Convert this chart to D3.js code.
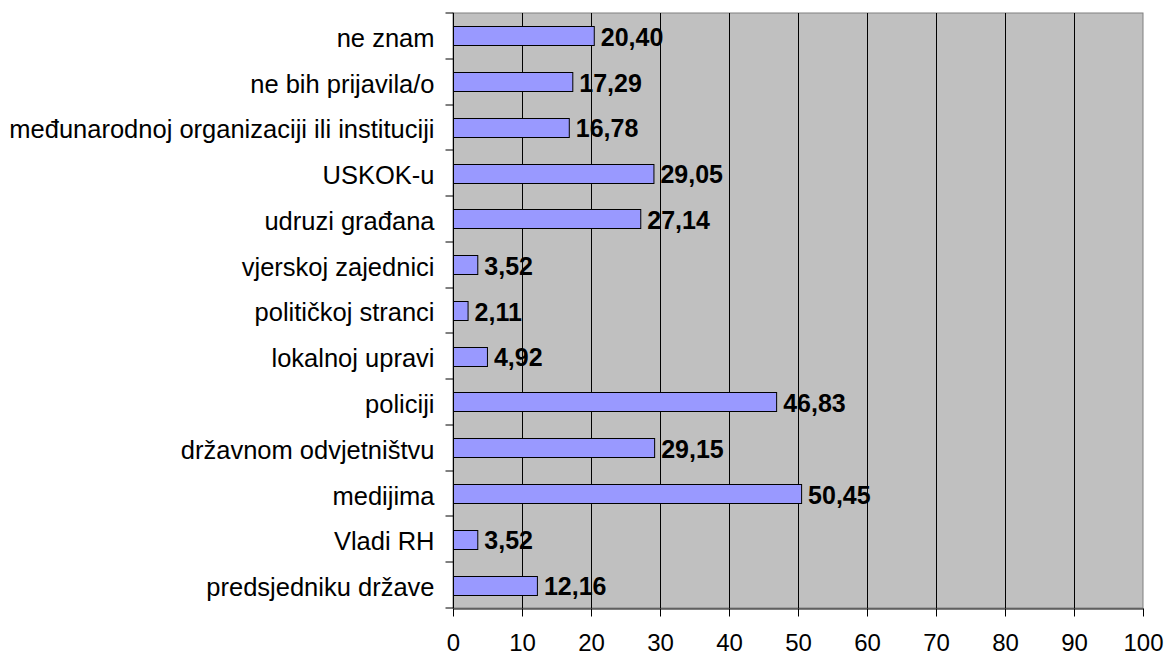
<!DOCTYPE html>
<meta charset="utf-8">
<script src="https://d3js.org/d3.v7.min.js"></script>
<style>
  body { margin: 0; background: #fff; }
  text { font-family: "Liberation Sans", Arial, sans-serif; }
</style>
<body>
<div id="chart"></div>
<script>
// categories, top to bottom
var categories = [
  "ne znam",
  "ne bih prijavila/o",
  "međunarodnoj organizaciji ili instituciji",
  "USKOK-u",
  "udruzi građana",
  "vjerskoj zajednici",
  "političkoj stranci",
  "lokalnoj upravi",
  "policiji",
  "državnom odvjetništvu",
  "medijima",
  "Vladi RH",
  "predsjedniku države"
];
var values = [20.40, 17.29, 16.78, 29.05, 27.14, 3.52, 2.11, 4.92, 46.83, 29.15, 50.45, 3.52, 12.16];
var xTicks = [0, 10, 20, 30, 40, 50, 60, 70, 80, 90, 100];

var data = categories.map(function(c, i) { return { name: c, value: values[i] }; });

var W = 1170, H = 657;
var margin = { top: 13, right: 27, bottom: 49, left: 453 };
var width = W - margin.left - margin.right,
    height = H - margin.top - margin.bottom;

var svg = d3.select("#chart").append("svg")
    .attr("width", W)
    .attr("height", H);

var g = svg.append("g")
    .attr("transform", "translate(" + margin.left + "," + margin.top + ")");

var x = d3.scaleLinear().domain([0, 100]).range([0, width]);
var y = d3.scaleBand().domain(categories).range([0, height]).paddingInner(0.58).paddingOuter(0.29);
var yb = d3.scaleBand().domain(categories).range([0, height]);

// plot background
g.append("rect")
  .attr("width", width).attr("height", height)
  .attr("fill", "#c0c0c0")
  .attr("stroke", "#808080").attr("stroke-width", 1);

// vertical gridlines
g.selectAll(".grid").data(xTicks.slice(1, -1)).enter().append("line")
  .attr("x1", function(d) { return Math.round(x(d)) + 0.5; })
  .attr("x2", function(d) { return Math.round(x(d)) + 0.5; })
  .attr("y1", 0).attr("y2", height)
  .attr("stroke", "#000").attr("stroke-width", 1);

// bars
g.selectAll(".bar").data(data).enter().append("rect")
  .attr("x", x(0) + 0.5)
  .attr("y", function(d) { return Math.round(y(d.name)) + 0.5; })
  .attr("width", function(d) { return x(d.value) - x(0); })
  .attr("height", Math.round(y.bandwidth()))
  .attr("fill", "#9999ff")
  .attr("stroke", "#000").attr("stroke-width", 1);

// value labels
g.selectAll(".lbl").data(data).enter().append("text")
  .attr("x", function(d) { return x(d.value) + 7; })
  .attr("y", function(d) { return y(d.name) + y.bandwidth() / 2; })
  .attr("dy", "0.4em")
  .attr("font-size", "25px")
  .attr("font-weight", "bold")
  .attr("fill", "#000")
  .text(function(d) { return d3.format(".2f")(d.value).replace(".", ","); });

// y axis
var yAxis = g.append("g").attr("transform", "translate(0.5,0)");
yAxis.append("line").attr("y1", 0).attr("y2", height).attr("stroke", "#000");
yAxis.selectAll(".tk").data(categories.concat([null])).enter().append("line")
  .attr("x1", -8).attr("x2", 0)
  .attr("y1", function(d, i) { return Math.round(i < categories.length ? yb(d) : height); })
  .attr("y2", function(d, i) { return Math.round(i < categories.length ? yb(d) : height); })
  .attr("stroke", "#000");
yAxis.selectAll(".cat").data(categories).enter().append("text")
  .attr("x", -19)
  .attr("y", function(d) { return yb(d) + yb.bandwidth() / 2; })
  .attr("dy", "0.43em")
  .attr("text-anchor", "end")
  .attr("font-size", "25.5px")
  .attr("fill", "#000")
  .text(function(d) { return d; });

// x axis
var xAxis = g.append("g").attr("transform", "translate(0," + (height + 0.5) + ")")
  .call(d3.axisBottom(x).tickValues(xTicks).tickSize(8).tickSizeOuter(0).tickPadding(17));
xAxis.select(".domain").attr("stroke", "#000");
xAxis.selectAll(".tick line").attr("stroke", "#000");
xAxis.selectAll("text")
  .attr("font-size", "24px")
  .attr("font-family", "'Liberation Sans', Arial, sans-serif")
  .attr("fill", "#000");
</script>
</body>
